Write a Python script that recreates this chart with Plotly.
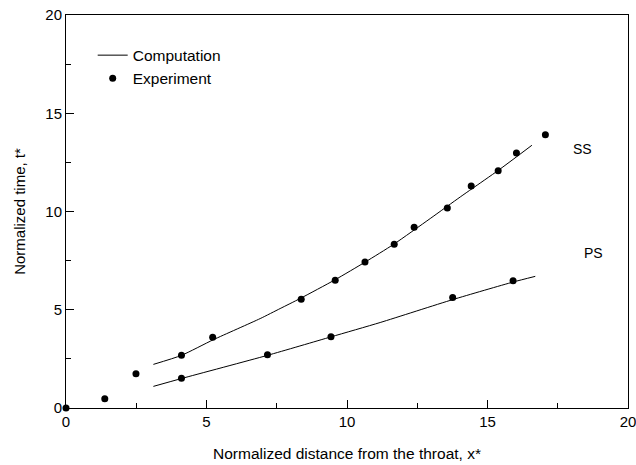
import plotly.graph_objects as go

# Experiment data (suction side, pressure side)
ss_exp_x = [0.0, 1.38, 2.49, 4.11, 5.22, 8.37, 9.58, 10.64, 11.68, 12.39, 13.57, 14.42, 15.38, 16.03, 17.06]
ss_exp_y = [0.0, 0.47, 1.74, 2.68, 3.60, 5.53, 6.50, 7.43, 8.33, 9.20, 10.18, 11.30, 12.08, 12.98, 13.90]
ps_exp_x = [4.11, 7.17, 9.43, 13.76, 15.91]
ps_exp_y = [1.51, 2.71, 3.63, 5.62, 6.48]

# Computation curves
ss_comp_x = [3.11, 4.11, 5.25, 6.91, 7.62, 8.33, 9.58, 10.65, 11.66, 12.96, 14.03, 14.45, 15.39, 16.58]
ss_comp_y = [2.22, 2.68, 3.48, 4.55, 5.06, 5.57, 6.53, 7.43, 8.33, 9.64, 10.74, 11.16, 12.10, 13.37]
ps_comp_x = [3.11, 4.11, 7.17, 9.43, 11.18, 13.77, 15.91, 16.70]
ps_comp_y = [1.10, 1.50, 2.68, 3.62, 4.35, 5.52, 6.41, 6.70]

labels = ["SS", "PS"]
label_x = [18.38, 18.77]
label_y = [13.2, 7.87]

FONT = "Liberation Sans, Arial, sans-serif"

fig = go.Figure()
fig.add_trace(go.Scatter(x=ss_comp_x, y=ss_comp_y, mode="lines", name="Computation",
                         line=dict(color="black", width=1, shape="spline", smoothing=0.6),
                         showlegend=True))
fig.add_trace(go.Scatter(x=ps_comp_x, y=ps_comp_y, mode="lines", name="Computation",
                         line=dict(color="black", width=1, shape="spline", smoothing=0.6),
                         showlegend=False))
fig.add_trace(go.Scatter(x=ss_exp_x, y=ss_exp_y, mode="markers", name="Experiment",
                         marker=dict(color="black", size=7), showlegend=True, cliponaxis=False))
fig.add_trace(go.Scatter(x=ps_exp_x, y=ps_exp_y, mode="markers", name="Experiment",
                         marker=dict(color="black", size=7), showlegend=False, cliponaxis=False))

for t, xx, yy in zip(labels, label_x, label_y):
    fig.add_annotation(x=xx, y=yy, text=t, showarrow=False,
                       font=dict(family=FONT, size=14, color="black"))

axis_common = dict(
    showline=True, linecolor="black", linewidth=1, mirror=True,
    ticks="inside", ticklen=8, tickcolor="black", tickwidth=1,
    showgrid=False, zeroline=False, automargin=False,
    ticklabeloverflow="allow",
    tickfont=dict(family=FONT, size=15, color="black"),
    minor=dict(dtick=2.5, ticks="inside", ticklen=5, tickcolor="black", tickwidth=1, showgrid=False),
)

fig.update_xaxes(range=[0, 20], dtick=5, tick0=0,
                 title=dict(text="Normalized distance from the throat, x*",
                            font=dict(family=FONT, size=15.5, color="black"), standoff=19),
                 **axis_common)
fig.update_yaxes(range=[0, 20], dtick=5, tick0=0,
                 title=dict(text="Normalized time, t*",
                            font=dict(family=FONT, size=15, color="black"), standoff=16),
                 **axis_common)

fig.update_layout(
    width=636, height=465,
    margin=dict(l=66, r=8, t=15, b=57, autoexpand=False),
    paper_bgcolor="white", plot_bgcolor="white",
    font=dict(family=FONT, color="black"),
    hovermode=False,
    legend=dict(x=0.0475, y=0.94, xanchor="left", yanchor="top",
                bgcolor="rgba(0,0,0,0)", borderwidth=0,
                font=dict(family=FONT, size=15.5, color="black"),
                itemwidth=30, tracegroupgap=0),
)

fig.write_html("out.html", config={"displayModeBar": False},
               post_script="document.body.style.margin='0px';")
